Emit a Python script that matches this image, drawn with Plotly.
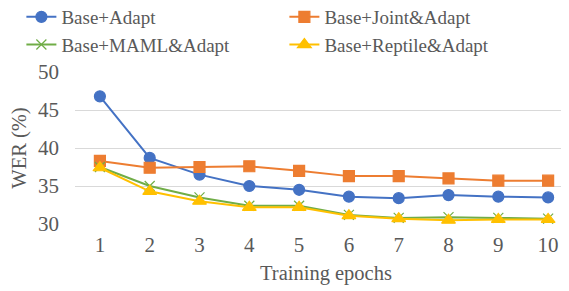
import plotly.graph_objects as go

epochs = [1, 2, 3, 4, 5, 6, 7, 8, 9, 10]
base_adapt = [46.8, 38.7, 36.5, 35.0, 34.5, 33.6, 33.4, 33.8, 33.6, 33.5]
joint_adapt = [38.3, 37.4, 37.5, 37.6, 37.0, 36.3, 36.3, 36.0, 35.7, 35.7]
maml_adapt = [37.5, 35.0, 33.5, 32.4, 32.4, 31.2, 30.8, 30.9, 30.8, 30.7]
reptile_adapt = [37.4, 34.3, 33.0, 32.2, 32.2, 31.1, 30.7, 30.5, 30.6, 30.6]
y_ticks = [30, 35, 40, 45, 50]

FONT = "Liberation Serif"
GREY = "#595959"

series = [
    ("Base+Adapt", base_adapt, "#4472C4", "circle", 11),
    ("Base+Joint&Adapt", joint_adapt, "#ED7D31", "square", 11),
    ("Base+MAML&Adapt", maml_adapt, "#70AD47", "x-thin", 10),
    ("Base+Reptile&Adapt", reptile_adapt, "#FFC000", "triangle-up", 12),
]

fig = go.Figure()
for name, vals, color, sym, size in series:
    fig.add_trace(go.Scatter(
        x=epochs, y=vals, name=name, mode="lines+markers",
        line=dict(color=color, width=2),
        marker=dict(symbol=sym, size=size, color=color,
                    line=dict(color=color, width=1.2)),
    ))

fig.update_layout(
    width=569, height=291,
    margin=dict(l=67, r=0, t=64, b=75, autoexpand=False),
    paper_bgcolor="white", plot_bgcolor="white",
    font=dict(family=FONT, size=20, color=GREY),
    showlegend=True,
    legend=dict(
        orientation="h", x=-0.1068, y=1.487, xref="paper", yref="paper",
        xanchor="left", yanchor="top",
        entrywidth=218, entrywidthmode="pixels",
        font=dict(family=FONT, size=19, color=GREY),
        itemwidth=30, tracegroupgap=0,
        bgcolor="rgba(0,0,0,0)",
    ),
    xaxis=dict(
        tickmode="array", tickvals=epochs, ticktext=[str(e) for e in epochs],
        range=[0.5, 10.58], showgrid=False, zeroline=False, showline=False,
        ticks="", ticklabelstandoff=6,
        tickfont=dict(family=FONT, size=21, color=GREY),
        title=dict(text="Training epochs", font=dict(family=FONT, size=20.5, color=GREY), standoff=9),
    ),
    yaxis=dict(
        tickmode="array", tickvals=y_ticks, range=[30, 50],
        showgrid=True, gridcolor="#D9D9D9", gridwidth=1.3, zeroline=False,
        showline=False, ticks="", ticklabelstandoff=15,
        tickfont=dict(family=FONT, size=21, color=GREY),
        title=dict(text="WER (%)", font=dict(family=FONT, size=20.5, color=GREY), standoff=5),
    ),
)

fig.write_html("out.html")
